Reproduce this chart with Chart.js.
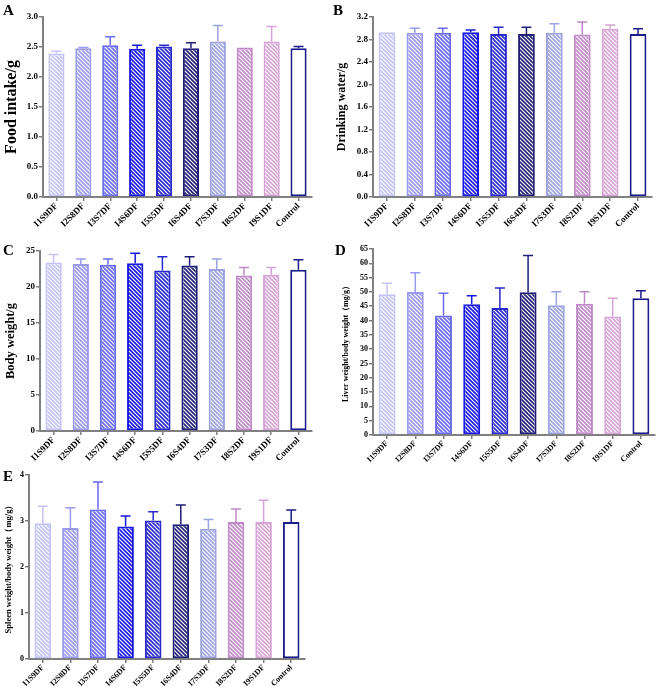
<!DOCTYPE html>
<html><head><meta charset="utf-8">
<script src="https://cdn.jsdelivr.net/npm/chart.js@4.4.1/dist/chart.umd.min.js"></script>
<style>
html,body{margin:0;padding:0;background:#fff;}
#wrap{position:relative;width:656px;height:692px;overflow:hidden;background:#fff;}
canvas{position:absolute;}
.lbl{position:absolute;font-family:"Liberation Serif","Times New Roman",serif;font-weight:bold;font-size:15px;color:#000;line-height:1;}
</style></head>
<body><div id="wrap">
<canvas id="cA" width="322" height="232" style="left:0;top:0"></canvas>
<canvas id="cB" width="326" height="232" style="left:330px;top:0"></canvas>
<canvas id="cC" width="322" height="238" style="left:0;top:232px"></canvas>
<canvas id="cD" width="326" height="238" style="left:330px;top:232px"></canvas>
<canvas id="cE" width="320" height="230" style="left:0;top:462px"></canvas>
<div class="lbl" style="left:3px;top:3px">A</div>
<div class="lbl" style="left:333px;top:3px">B</div>
<div class="lbl" style="left:3px;top:243px">C</div>
<div class="lbl" style="left:335px;top:243px">D</div>
<div class="lbl" style="left:3px;top:469px">E</div>
</div>
<script>
const categories = ['I1S9DF','I2S8DF','I3S7DF','I4S6DF','I5S5DF','I6S4DF','I7S3DF','I8S2DF','I9S1DF','Control'];

const foodIntake    = [2.39, 2.48, 2.53, 2.47, 2.51, 2.48, 2.59, 2.49, 2.59, 2.48];
const foodIntakeErr = [0.04, 0.01, 0.14, 0.06, 0.02, 0.09, 0.27, 0.00, 0.25, 0.03];

const drinkingWater    = [2.93, 2.92, 2.92, 2.93, 2.90, 2.90, 2.92, 2.89, 2.99, 2.90];
const drinkingWaterErr = [0.00, 0.08, 0.08, 0.04, 0.12, 0.12, 0.16, 0.22, 0.07, 0.09];

const bodyWeight    = [23.4, 23.2, 23.1, 23.3, 22.3, 23.0, 22.5, 21.6, 21.7, 22.4];
const bodyWeightErr = [1.1, 0.7, 0.8, 1.4, 1.9, 1.2, 1.4, 1.1, 1.0, 1.4];

const liverRatio    = [49.2, 50.0, 41.8, 45.7, 44.4, 49.9, 45.3, 45.9, 41.4, 47.8];
const liverRatioErr = [3.8, 6.7, 7.7, 3.0, 7.0, 12.8, 4.8, 4.2, 6.4, 2.6];

const spleenRatio    = [2.95, 2.85, 3.25, 2.88, 3.01, 2.93, 2.83, 2.98, 2.98, 2.98];
const spleenRatioErr = [0.37, 0.44, 0.60, 0.23, 0.19, 0.42, 0.20, 0.28, 0.47, 0.26];

const colors = ['#c4c4f4','#9a9aee','#6a6aee','#1818e4','#2828cc','#1e1e76','#9ca4e0','#c08ac8','#d6a4d4','#1c1c8a'];

const SERIF = '"Liberation Serif","Times New Roman",serif';

function hatch(color){
  const s = 4;
  const c = document.createElement('canvas'); c.width = s; c.height = s;
  const g = c.getContext('2d');
  g.fillStyle = '#fff'; g.fillRect(0,0,s,s);
  g.strokeStyle = color; g.lineWidth = 1.6;
  g.beginPath();
  g.moveTo(-1,-1); g.lineTo(s+1,s+1);
  g.moveTo(-1,s-1); g.lineTo(1,s+1);
  g.moveTo(s-1,-1); g.lineTo(s+1,1);
  g.stroke();
  return g.createPattern(c,'repeat');
}
const fills = colors.map((c,i)=> i === colors.length-1 ? '#ffffff' : hatch(c));

const errorBars = {
  id:'errorBars',
  afterDatasetsDraw(chart){
    const ctx = chart.ctx, ys = chart.scales.y;
    chart.data.datasets.forEach((ds,di)=>{
      const meta = chart.getDatasetMeta(di);
      meta.data.forEach((bar,i)=>{
        const e = ds.errors[i];
        if(!e) return;
        const yT = ys.getPixelForValue(ds.data[i] + e);
        ctx.save();
        ctx.strokeStyle = ds.borderColor[i];
        ctx.lineWidth = 1.5;
        ctx.beginPath();
        ctx.moveTo(bar.x, bar.y); ctx.lineTo(bar.x, yT);
        ctx.moveTo(bar.x-5, yT); ctx.lineTo(bar.x+5, yT);
        ctx.stroke();
        ctx.restore();
      });
    });
  }
};

function makeChart(id, values, errs, spec){
  new Chart(document.getElementById(id), {
    type:'bar',
    data:{labels:categories, datasets:[{
      data:values, errors:errs, backgroundColor:fills, borderColor:colors,
      borderWidth:2, borderSkipped:false, categoryPercentage:0.6, barPercentage:1
    }]},
    options:{
      responsive:false, animation:false, devicePixelRatio:1,
      layout:{padding:{top:spec.top, right:spec.right, left:0, bottom:0}},
      plugins:{legend:{display:false}, tooltip:{enabled:false}},
      scales:{
        x:{
          grid:{display:true, drawOnChartArea:false, drawTicks:true, tickLength:4, color:'#808080', lineWidth:1.5, offset:false},
          border:{display:true, color:'#808080', width:2},
          ticks:{color:'#000', font:{family:SERIF, weight:'bold', size:spec.xfs}, maxRotation:45, minRotation:45, padding:0, autoSkip:false},
          afterFit(s){ s.height = spec.xh; }
        },
        y:{
          min:0, max:spec.max,
          ticks:{stepSize:spec.step, color:'#000', font:{family:SERIF, weight:'bold', size:spec.yfs}, padding:1,
                 callback:v => spec.dec ? Number(v).toFixed(spec.dec) : String(Math.round(v))},
          grid:{display:true, drawOnChartArea:false, drawTicks:true, tickLength:4, color:'#808080', lineWidth:1.5},
          border:{display:true, color:'#808080', width:2},
          title:{display:true, text:spec.title, color:'#000', font:{family:SERIF, weight:'bold', size:spec.tfs}, padding:{top:spec.tpad, bottom:0}},
          afterFit(s){ s.width = spec.yw; }
        }
      }
    },
    plugins:[errorBars]
  });
}

makeChart('cA', foodIntake, foodIntakeErr, {top:17, right:10, xh:35, yw:43, max:3.0, step:0.5, dec:1, title:'Food intake/g', tfs:16, tpad:2, xfs:9, yfs:9});
makeChart('cB', drinkingWater, drinkingWaterErr, {top:17, right:4, xh:35, yw:43, max:3.2, step:0.4, dec:1, title:'Drinking water/g', tfs:12, tpad:5, xfs:9, yfs:9});
makeChart('cC', bodyWeight, bodyWeightErr, {top:19, right:10, xh:39, yw:40, max:25, step:5, dec:0, title:'Body weight/g', tfs:12.5, tpad:3, xfs:9, yfs:9});
makeChart('cD', liverRatio, liverRatioErr, {top:17, right:1, xh:35, yw:43, max:65, step:5, dec:0, title:'Liver weight/body weight（mg/g）', tfs:8, tpad:11, xfs:8, yfs:8});
makeChart('cE', spleenRatio, spleenRatioErr, {top:13, right:15, xh:33, yw:29, max:4, step:1, dec:0, title:'Spleen weight/body weight（mg/g）', tfs:8.5, tpad:4, xfs:8, yfs:8});
</script>
</body></html>
